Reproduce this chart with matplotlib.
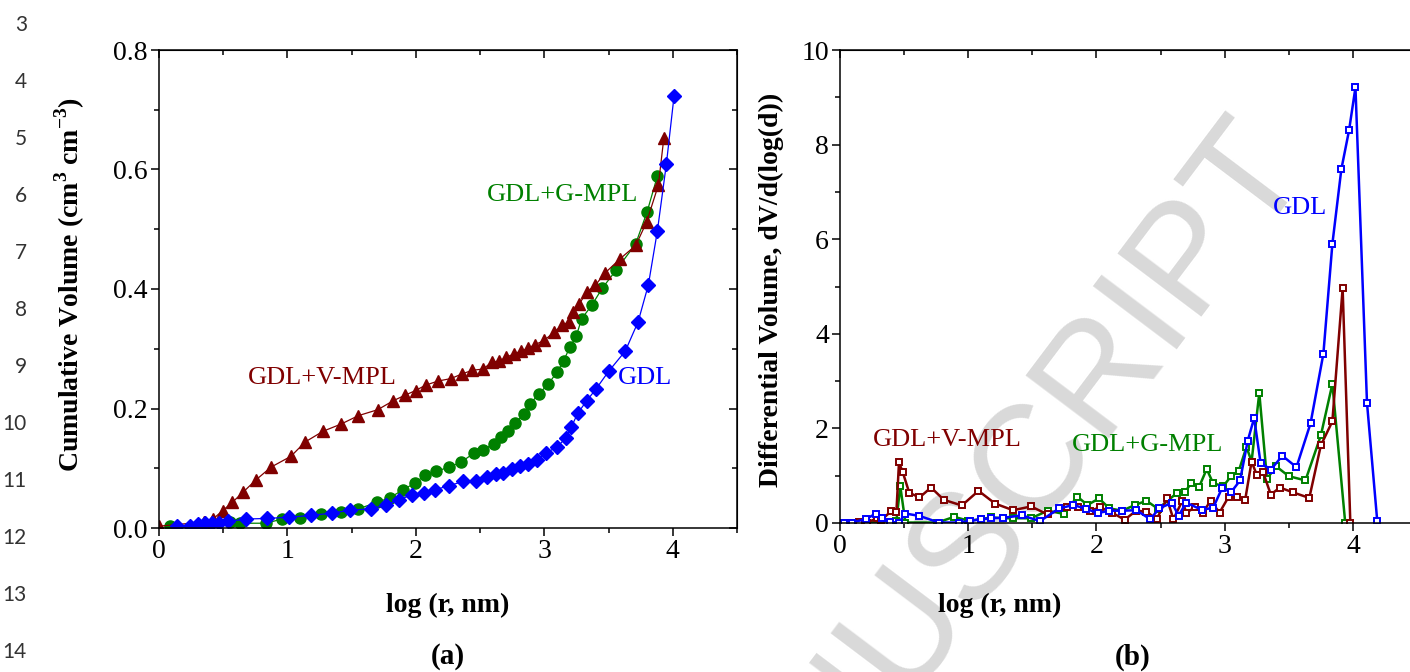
import matplotlib
matplotlib.use('Agg')
import matplotlib.pyplot as plt
from matplotlib.ticker import MultipleLocator, FormatStrFormatter

plt.rcParams['font.family'] = 'Liberation Serif'
plt.rcParams['mathtext.fontset'] = 'custom'
plt.rcParams['mathtext.bf'] = 'Liberation Serif:bold'
plt.rcParams['mathtext.rm'] = 'Liberation Serif:bold'

# (a) cumulative volume
gdl_x = [0.14, 0.24, 0.30, 0.355, 0.41, 0.47, 0.54, 0.68, 0.84, 1.01, 1.18, 1.35, 1.49, 1.65,
         1.77, 1.87, 1.97, 2.06, 2.15, 2.26, 2.37, 2.47, 2.55, 2.62, 2.68, 2.75, 2.81, 2.87,
         2.94, 3.01, 3.10, 3.17, 3.21, 3.26, 3.33, 3.40, 3.50, 3.63, 3.73, 3.81, 3.88, 3.95, 4.01]
gdl_y = [0.004, 0.004, 0.007, 0.008, 0.008, 0.009, 0.011, 0.015, 0.016, 0.018, 0.021, 0.025,
         0.030, 0.032, 0.039, 0.047, 0.056, 0.059, 0.064, 0.071, 0.078, 0.079, 0.085, 0.091,
         0.092, 0.099, 0.104, 0.107, 0.114, 0.125, 0.136, 0.151, 0.169, 0.192, 0.213, 0.232,
         0.262, 0.296, 0.345, 0.407, 0.497, 0.609, 0.723]

gmpl_x = [0.084, 0.30, 0.55, 0.63, 0.83, 0.96, 1.10, 1.26, 1.42, 1.55, 1.70, 1.80, 1.90, 1.99,
          2.07, 2.16, 2.26, 2.35, 2.45, 2.52, 2.61, 2.66, 2.72, 2.77, 2.84, 2.89, 2.96, 3.03,
          3.10, 3.15, 3.20, 3.25, 3.29, 3.37, 3.45, 3.56, 3.71, 3.80, 3.88]
gmpl_y = [0.003, 0.004, 0.010, 0.008, 0.008, 0.015, 0.017, 0.023, 0.026, 0.032, 0.043, 0.051,
          0.064, 0.075, 0.088, 0.095, 0.102, 0.110, 0.125, 0.131, 0.141, 0.152, 0.163, 0.175,
          0.190, 0.208, 0.225, 0.241, 0.261, 0.280, 0.303, 0.322, 0.350, 0.373, 0.401, 0.432,
          0.475, 0.529, 0.589]

vmpl_x = [0.0, 0.35, 0.42, 0.495, 0.571, 0.655, 0.752, 0.873, 1.027, 1.138, 1.278, 1.418, 1.552,
          1.703, 1.824, 1.913, 1.997, 2.075, 2.173, 2.271, 2.361, 2.439, 2.523, 2.593, 2.649,
          2.705, 2.761, 2.817, 2.873, 2.929, 2.999, 3.077, 3.138, 3.189, 3.222, 3.273, 3.329,
          3.396, 3.469, 3.592, 3.712, 3.796, 3.888, 3.93]
vmpl_y = [0.003, 0.010, 0.015, 0.029, 0.043, 0.060, 0.080, 0.102, 0.120, 0.144, 0.162, 0.174,
          0.188, 0.198, 0.213, 0.222, 0.230, 0.239, 0.246, 0.250, 0.258, 0.264, 0.266, 0.278,
          0.279, 0.286, 0.291, 0.296, 0.301, 0.307, 0.314, 0.328, 0.339, 0.345, 0.361, 0.375,
          0.395, 0.406, 0.426, 0.451, 0.473, 0.512, 0.574, 0.652]

# (b) differential volume
d_gdl_x = [0.03, 0.09, 0.20, 0.28, 0.33, 0.39, 0.46, 0.51, 0.62, 0.77, 0.93, 1.01, 1.10, 1.18,
           1.27, 1.42, 1.56, 1.71, 1.82, 1.92, 2.01, 2.10, 2.20, 2.31, 2.42, 2.49, 2.59, 2.64,
           2.70, 2.82, 2.91, 2.98, 3.05, 3.12, 3.18, 3.23, 3.28, 3.36, 3.45, 3.56, 3.67, 3.77,
           3.84, 3.91, 3.97, 4.02, 4.11, 4.19]
d_gdl_y = [0.0, 0.01, 0.08, 0.20, 0.10, 0.02, 0.01, 0.20, 0.15, 0.01, 0.01, 0.04, 0.08, 0.10,
           0.11, 0.16, 0.04, 0.31, 0.38, 0.30, 0.21, 0.26, 0.26, 0.27, 0.08, 0.31, 0.43, 0.15,
           0.43, 0.28, 0.32, 0.74, 0.65, 0.90, 1.74, 2.22, 1.27, 1.13, 1.42, 1.18, 2.11, 3.58,
           5.90, 7.48, 8.30, 9.21, 2.54, 0.04]

d_gmpl_x = [0.03, 0.21, 0.44, 0.47, 0.51, 0.76, 0.89, 1.00, 1.10, 1.18, 1.27, 1.35, 1.49, 1.62,
            1.75, 1.85, 1.93, 2.02, 2.10, 2.20, 2.30, 2.39, 2.48, 2.63, 2.69, 2.74, 2.80, 2.86,
            2.91, 2.99, 3.05, 3.11, 3.17, 3.21, 3.27, 3.33, 3.40, 3.50, 3.63, 3.75, 3.84, 3.94]
d_gmpl_y = [0.0, 0.01, 0.05, 0.78, 0.01, 0.01, 0.13, 0.05, 0.08, 0.12, 0.10, 0.10, 0.10, 0.26,
            0.19, 0.56, 0.38, 0.52, 0.31, 0.26, 0.38, 0.47, 0.30, 0.64, 0.66, 0.84, 0.76, 1.14,
            0.84, 0.78, 0.99, 1.10, 1.61, 1.30, 2.75, 0.93, 1.20, 0.99, 0.90, 1.85, 2.94, 0.01]

d_vmpl_x = [0.03, 0.09, 0.15, 0.21, 0.29, 0.32, 0.40, 0.44, 0.46, 0.49, 0.54, 0.62, 0.71, 0.81,
            0.95, 1.08, 1.21, 1.35, 1.49, 1.62, 1.77, 1.86, 1.95, 2.03, 2.12, 2.22, 2.31, 2.39,
            2.47, 2.55, 2.60, 2.67, 2.70, 2.77, 2.83, 2.89, 2.96, 3.03, 3.10, 3.16, 3.21, 3.25,
            3.30, 3.36, 3.43, 3.53, 3.66, 3.75, 3.84, 3.92, 3.98]
d_vmpl_y = [0.0, 0.0, 0.03, 0.01, 0.10, 0.06, 0.25, 0.24, 1.28, 1.07, 0.64, 0.54, 0.75, 0.49,
            0.37, 0.68, 0.41, 0.27, 0.35, 0.18, 0.34, 0.33, 0.26, 0.33, 0.22, 0.07, 0.26, 0.24,
            0.08, 0.52, 0.08, 0.47, 0.22, 0.33, 0.22, 0.47, 0.22, 0.55, 0.56, 0.49, 1.30, 1.02,
            1.07, 0.60, 0.75, 0.65, 0.53, 1.64, 2.15, 4.96, 0.01]

blue = '#0000ff'
green = '#008000'
red = '#800000'

W, H = 1410, 672
fig = plt.figure(figsize=(W / 100, H / 100), dpi=100)


def px_axes(x0, y0, x1, y1):
    return fig.add_axes([x0 / W, 1 - y1 / H, (x1 - x0) / W, (y1 - y0) / H])


def style_axes(ax, xmaj, xmin, ymaj, ymin, mirror_right=True):
    ax.patch.set_alpha(0)
    for s in ax.spines.values():
        s.set_linewidth(1.1)
    ax.xaxis.set_major_locator(MultipleLocator(xmaj))
    ax.xaxis.set_minor_locator(MultipleLocator(xmin))
    ax.yaxis.set_major_locator(MultipleLocator(ymaj))
    ax.yaxis.set_minor_locator(MultipleLocator(ymin))
    ax.tick_params(which='both', direction='out', width=1.1, labelsize=20, pad=2)
    ax.tick_params(which='major', length=6)
    ax.tick_params(which='minor', length=3.5)
    # mirrored ticks pointing inward
    top = ax.secondary_xaxis('top')
    top.xaxis.set_major_locator(MultipleLocator(xmaj))
    top.xaxis.set_minor_locator(MultipleLocator(xmin))
    top.tick_params(which='both', direction='in', width=1.1, labeltop=False)
    top.tick_params(which='major', length=6)
    top.tick_params(which='minor', length=3.5)
    if mirror_right:
        right = ax.secondary_yaxis('right')
        right.yaxis.set_major_locator(MultipleLocator(ymaj))
        right.yaxis.set_minor_locator(MultipleLocator(ymin))
        right.tick_params(which='both', direction='in', width=1.1, labelright=False)
        right.tick_params(which='major', length=6)
        right.tick_params(which='minor', length=3.5)


# watermark
fig.text(972 / W, 1 - 540 / H, 'MANUSCRIPT', rotation=53, rotation_mode='anchor',
         ha='center', va='center', fontsize=110, color='#d9d9d9',
         family='Liberation Sans', zorder=-5)

# ---- panel (a)
ax1 = px_axes(159, 50, 737, 528)
ax1.plot(gmpl_x, gmpl_y, '-o', color=green, lw=0.9, ms=8)
ax1.plot(vmpl_x, vmpl_y, '-^', color=red, lw=0.9, ms=9)
ax1.plot(gdl_x, gdl_y, '-D', color=blue, lw=0.9, ms=7.5)
ax1.set_xlim(0, 4.5)
ax1.set_ylim(0, 0.8)
style_axes(ax1, 1, 0.5, 0.2, 0.1)
ax1.yaxis.set_major_formatter(FormatStrFormatter('%.1f'))
ax1.text(3.14, 0.557, 'GDL+G-MPL', color=green, fontsize=19, ha='center', va='center')
ax1.text(1.27, 0.251, 'GDL+V-MPL', color=red, fontsize=19, ha='center', va='center')
ax1.text(3.78, 0.251, 'GDL', color=blue, fontsize=19, ha='center', va='center')

# ---- panel (b)
ax2 = px_axes(840, 50, 1417, 523)
ax2.plot(d_gmpl_x, d_gmpl_y, '-s', color=green, lw=1.8, ms=5, mfc='white', mew=1.4)
ax2.plot(d_vmpl_x, d_vmpl_y, '-s', color=red, lw=1.8, ms=5, mfc='white', mew=1.4)
ax2.plot(d_gdl_x, d_gdl_y, '-s', color=blue, lw=1.8, ms=5, mfc='white', mew=1.4)
ax2.set_xlim(0, 4.5)
ax2.set_ylim(0, 10)
style_axes(ax2, 1, 0.5, 2, 1, mirror_right=False)
ax2.text(0.84, 1.75, 'GDL+V-MPL', color=red, fontsize=19, ha='center', va='center')
ax2.text(2.40, 1.65, 'GDL+G-MPL', color=green, fontsize=19, ha='center', va='center')
ax2.text(3.59, 6.66, 'GDL', color=blue, fontsize=19, ha='center', va='center')

# axis labels and captions
fig.text(448 / W, 1 - 605 / H, 'log (r, nm)', fontsize=20, fontweight='bold', ha='center', va='center')
fig.text(1000 / W, 1 - 605 / H, 'log (r, nm)', fontsize=20, fontweight='bold', ha='center', va='center')
fig.text(448 / W, 1 - 657 / H, '(a)', fontsize=21, fontweight='bold', ha='center', va='center')
fig.text(1133 / W, 1 - 657 / H, '(b)', fontsize=21, fontweight='bold', ha='center', va='center')
fig.text(70 / W, 1 - 285 / H, r'Cumulative Volume (cm$^{3}$ cm$^{-3}$)', fontsize=20,
         fontweight='bold', rotation=90, ha='center', va='center')
fig.text(771 / W, 1 - 290 / H, 'Differential Volume, dV/d(log(d))', fontsize=20,
         fontweight='bold', rotation=90, ha='center', va='center')

# manuscript line numbers
for n in range(3, 15):
    fig.text(27 / W, 1 - (25 + 57 * (n - 3)) / H, str(n), fontsize=15, family='Lato',
             color='#333333', ha='right', va='center')

fig.savefig('out.png', dpi=100)
